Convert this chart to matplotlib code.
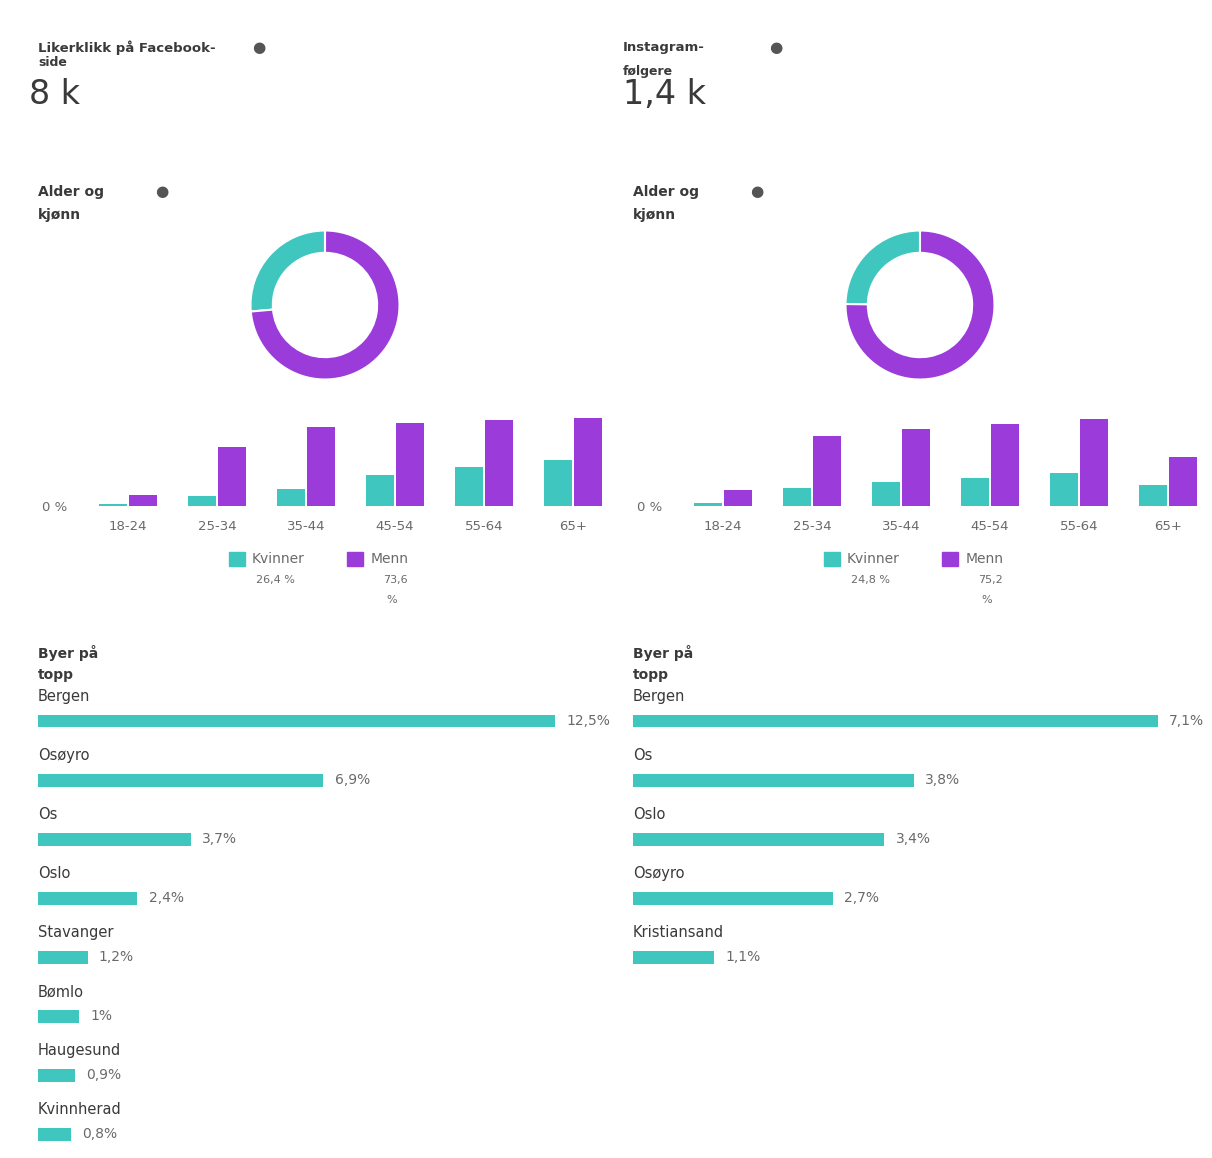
import matplotlib
matplotlib.use("Agg")
import matplotlib.pyplot as plt
from matplotlib.patches import Patch

plt.rcParams['font.family'] = ['DejaVu Sans']

# data
age_groups = ["18-24", "25-34", "35-44", "45-54", "55-64", "65+"]
fb_women = [0.4, 1.8, 3.1, 5.7, 7.0, 8.4]
fb_men = [2.0, 10.7, 14.3, 15.0, 15.6, 16.0]
ig_women = [0.6, 3.5, 4.7, 5.5, 6.4, 4.1]
ig_men = [3.2, 13.8, 15.2, 16.1, 17.2, 9.7]

fb_cities = ["Bergen", "Osøyro", "Os", "Oslo", "Stavanger", "Bømlo", "Haugesund", "Kvinnherad"]
fb_city_pct = [12.5, 6.9, 3.7, 2.4, 1.2, 1.0, 0.9, 0.8]
ig_cities = ["Bergen", "Os", "Oslo", "Osøyro", "Kristiansand"]
ig_city_pct = [7.1, 3.8, 3.4, 2.7, 1.1]

fb_title = ["Likerklikk på Facebook-", "side"]
ig_title = ["Instagram-", "følgere"]
fb_total = "8 k"
ig_total = "1,4 k"

teal = "#3EC6BF"
purple = "#9A3BDA"
dark = "#3a3a3a"
grey = "#6a6a6a"

W, H = 1212, 1158
fig = plt.figure(figsize=(W / 100, H / 100), dpi=100)


def box(x0, y0, x1, y1):
    return [x0 / W, 1 - y1 / H, (x1 - x0) / W, (y1 - y0) / H]


def ftext(x, y, s, **kw):
    fig.text(x / W, 1 - y / H, s, va="center", ha="left", **kw)


def fmt(v):
    s = f"{v:.1f}".replace(".", ",")
    if s.endswith(",0"):
        s = s[:-2]
    return s


def panel(dx, title, title_x, icon_x, total, women, men, ymax, cities, pct, xmax):
    # header
    ftext(title_x, 48, title[0], fontsize=9.5, color=dark, fontweight="bold")
    ftext(title_x, 63 if dx == 0 else 71, title[1], fontsize=9, color=dark, fontweight="bold")
    ftext(title_x - 9 if dx == 0 else title_x, 95, total, fontsize=24, color=dark)
    ftext(icon_x, 48, "●", fontsize=11, color="#555555")

    ftext(38 + dx, 192, "Alder og", fontsize=10, color=dark, fontweight="bold")
    ftext(38 + dx, 215, "kjønn", fontsize=10, color=dark, fontweight="bold")
    ftext(155 + dx, 192, "●", fontsize=11, color="#555555")

    # donut
    ax = fig.add_axes(box(249 + dx, 229, 401 + dx, 381))
    ax.pie([sum(women), sum(men)], colors=[teal, purple], startangle=90,
           counterclock=True, radius=1,
           wedgeprops=dict(width=0.3, edgecolor="white", linewidth=1.5))
    ax.set_xlim(-1.02, 1.02)
    ax.set_ylim(-1.02, 1.02)
    ax.set_aspect("equal")

    # age bars
    ax = fig.add_axes(box(83.5 + dx, 410, 617.5 + dx, 506))
    x = range(len(age_groups))
    ax.bar([i - 0.17 for i in x], women, width=0.32, color=teal)
    ax.bar([i + 0.17 for i in x], men, width=0.32, color=purple)
    ax.set_xlim(-0.5, 5.5)
    ax.set_ylim(0, ymax)
    ax.set_xticks(list(x))
    ax.set_xticklabels(age_groups, fontsize=9.5, color=grey)
    ax.set_yticks([0])
    ax.set_yticklabels(["0 %"], fontsize=9.5, color=grey)
    ax.tick_params(length=0, pad=10)
    ax.tick_params(axis="y", pad=12)
    for s in ax.spines.values():
        s.set_visible(False)

    # legend
    handles = [Patch(color=teal), Patch(color=purple)]
    fig.legend(handles, ["Kvinner", "Menn"], ncol=2, frameon=False,
               loc="center left", bbox_to_anchor=((216 + dx) / W, 1 - 559 / H),
               fontsize=10, handlelength=1.2, handleheight=1.2,
               columnspacing=3.0, handletextpad=0.5, labelcolor=grey)
    ftext(256 + dx, 580, fmt(sum(women)) + " %", fontsize=8, color=grey)
    ftext(383 + dx, 580, fmt(sum(men)), fontsize=8, color=grey)
    ftext(386 + dx, 600, "%", fontsize=8, color=grey)

    # cities
    ftext(38 + dx, 653, "Byer på", fontsize=10, color=dark, fontweight="bold")
    ftext(38 + dx, 675, "topp", fontsize=10, color=dark, fontweight="bold")
    ax = fig.add_axes(box(38 + dx, 691.5, 600 + dx, 1150))
    y = list(range(len(cities)))
    ax.barh(y, pct, height=0.22, color=teal)
    for i, (c, v) in enumerate(zip(cities, pct)):
        ax.text(0, i - 0.41, c, fontsize=10.5, color=dark, va="center", ha="left")
        ax.text(v + xmax * 0.02, i, fmt(v) + "%", fontsize=10, color=grey,
                va="center", ha="left")
    ax.set_xlim(0, xmax)
    ax.set_ylim(7.27, -0.5)
    ax.axis("off")


panel(0, fb_title, 38, 252, fb_total, fb_women, fb_men, 17.45,
      fb_cities, fb_city_pct, 12.5 * 562 / 517)
panel(595, ig_title, 623, 769, ig_total, ig_women, ig_men, 18.9,
      ig_cities, ig_city_pct, 7.1 * 562 / 525)

fig.savefig("out.png", dpi=100)
